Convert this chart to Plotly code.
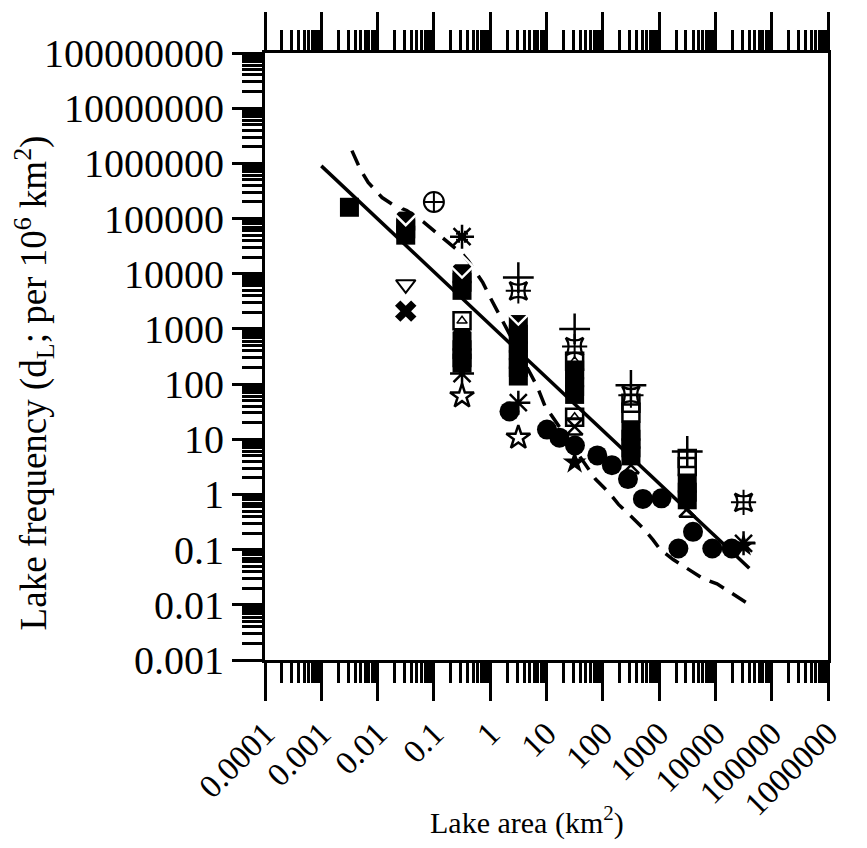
import plotly.graph_objects as go

# ---------------- data ----------------
# model lines
solid_x = [0.001, 40000]
solid_y = [9.0e5, 0.046]

dashed_x = [0.0035, 0.0049, 0.0068, 0.012, 0.020, 0.033, 0.065, 0.11, 0.18, 0.33, 0.41,
            0.74, 1.0, 1.38, 6.8, 9.4, 74, 130, 190, 320, 530, 780, 1050, 1780, 3200,
            6000, 10700, 19500, 38000]
dashed_y = [1.7e6, 7.9e5, 4.5e5, 2.4e5, 1.7e5, 1.4e5, 8.7e4, 5.5e4, 3.6e4, 2.2e4, 1.7e4,
            6900, 3700, 2000, 91, 40, 1.9, 1.07, 0.66, 0.40, 0.24, 0.15, 0.10, 0.066, 0.046,
            0.030, 0.024, 0.016, 0.0105]

# filled circles (single survey)
circle_x = [2.2, 10.2, 17, 32, 80, 145, 280, 515, 1100, 2200, 4000, 8800, 19500]
circle_y = [32, 15, 10.7, 7.7, 5.1, 3.4, 1.9, 0.83, 0.85, 0.105, 0.21, 0.105, 0.105]

# filled squares
sqf_x = [0.00316, 0.0316, 0.0316, 0.0316, 0.316, 0.316, 0.316, 0.316, 0.316, 0.316, 0.316,
         3.16, 3.16, 3.16, 3.16, 3.16, 3.16, 3.16, 31.6, 31.6, 31.6, 31.6,
         316, 316, 316, 316, 3162, 3162, 3162]
sqf_y = [1.6e5, 9.0e4, 6.5e4, 5.0e4, 10000, 7000, 5000, 600, 420, 300, 240,
         1200, 800, 550, 400, 280, 200, 140, 180, 130, 90, 65,
         14, 10, 7, 5, 1.6, 1.1, 0.8]

# open diamonds
dia_x = [0.0316, 0.316, 3.16, 31623]
dia_y = [1.2e5, 13500, 1900, 0.22]

# plus signs
plus_x = [3.16, 31.6, 316, 3162]
plus_y = [8500, 1000, 95, 6.0]

# open four-point stars
star4_x = [3.16, 31.6, 316, 31623]
star4_y = [4900, 480, 63, 0.72]

# hash
hash_x = [0.316]
hash_y = [47000]

# circled cross
ccross_x = [0.1]
ccross_y = [2.0e5]

# open down triangle
tri_x = [0.0316]
tri_y = [6400]

# thick cross
x_x = [0.0316]
x_y = [2100]

# open five-point stars
star_x = [0.316, 3.16]
star_y = [60, 10.7]

# filled five-point stars
starf_x = [31.6, 31623]
starf_y = [3.8, 0.12]

# starbursts
burst_x = [0.316, 3.16, 31623]
burst_y = [155, 46, 0.13]

# open squares
sqo_x = [0.316, 31.6, 31.6, 316, 316, 3162, 3162]
sqo_y = [1400, 260, 25, 45, 30, 4.5, 3.2]

# hourglasses
hg_x = [0.316, 31.6, 316, 3162]
hg_y = [650, 17, 3.4, 0.55]

# axis ticks
x_tickvals = [0.0001, 0.001, 0.01, 0.1, 1, 10, 100, 1000, 10000, 100000, 1000000]
x_ticktext = ["0.0001", "0.001", "0.01", "0.1", "1", "10", "100", "1000", "10000",
              "100000", "1000000"]
y_tickvals = [0.001, 0.01, 0.1, 1, 10, 100, 1000, 10000, 100000, 1000000, 10000000,
              100000000]
y_ticktext = ["0.001", "0.01", "0.1", "1", "10", "100", "1000", "10000", "100000",
              "1000000", "10000000", "100000000"]

# ---------------- figure ----------------
FONT = "Times New Roman, Liberation Serif, serif"
fig = go.Figure()

fig.add_trace(go.Scatter(x=solid_x, y=solid_y, mode="lines",
                         line=dict(color="black", width=3.5)))
fig.add_trace(go.Scatter(x=dashed_x, y=dashed_y, mode="lines",
                         line=dict(color="black", width=3.5, dash="16px,10px")))

def add_markers(xs, ys, symbol, size, lw=1.5, fill="black"):
    fig.add_trace(go.Scatter(
        x=xs, y=ys, mode="markers",
        marker=dict(symbol=symbol, size=size, color=fill,
                    line=dict(color="black", width=lw))))

add_markers(sqf_x, sqf_y, "square", 19, 0)
add_markers(sqo_x, sqo_y, "square-open", 17, 2.5)
add_markers(sqo_x[:3], sqo_y[:3], "triangle-up-open", 9, 1.5)
add_markers(hg_x, hg_y, "hourglass-open", 16, 2.5)
add_markers(dia_x, dia_y, "diamond-open", 17, 2.5, "white")
add_markers(plus_x, plus_y, "cross-thin-open", 22, 2.5)
add_markers(star4_x, star4_y, "star-square-open", 16, 2.5)
add_markers(star4_x, star4_y, "cross-thin-open", 18, 2)
add_markers(hash_x, hash_y, "asterisk-open", 20, 2.5)
add_markers(hash_x, hash_y, "hash-open", 12, 2)
add_markers(ccross_x, ccross_y, "circle-cross-open", 20, 2)
add_markers(tri_x, tri_y, "triangle-down-open", 17, 2)
add_markers(x_x, x_y, "x", 19, 0)
add_markers(star_x, star_y, "star-open", 18, 2.5)
add_markers(starf_x, starf_y, "star", 18, 0)
add_markers(burst_x, burst_y, "asterisk-open", 20, 2.5)
add_markers(circle_x, circle_y, "circle", 20, 0)

axis_common = dict(
    type="log", showgrid=False, zeroline=False, showline=True,
    linecolor="black", linewidth=3, ticks="outside", tickcolor="black",
    tickwidth=3, tickmode="array",
    minor=dict(ticks="outside", ticklen=20, tickwidth=2.5, tickcolor="black",
               dtick="D1", showgrid=False),
)

fig.update_xaxes(range=[-4, 6], tickvals=x_tickvals, ticktext=x_ticktext,
                 ticklen=38, tickangle=-45, mirror="ticks",
                 tickfont=dict(family=FONT, size=33, color="black"), **axis_common)
fig.update_yaxes(range=[-3, 8], tickvals=y_tickvals, ticktext=y_ticktext,
                 ticklen=30, mirror=True,
                 tickfont=dict(family=FONT, size=40, color="black"), **axis_common)

fig.add_annotation(text="Lake area (km<sup>2</sup>)", xref="paper", yref="paper",
                   x=0.465, y=-0.264, showarrow=False, xanchor="center", yanchor="middle",
                   font=dict(family=FONT, size=30, color="black"))
fig.add_annotation(text="Lake frequency (d<sub>L</sub>; per 10<sup>6</sup> km<sup>2</sup>)",
                   xref="paper", yref="paper", x=-0.41, y=0.456, textangle=-90,
                   showarrow=False, xanchor="center", yanchor="middle",
                   font=dict(family=FONT, size=37, color="black"))

fig.update_layout(
    width=867, height=848, autosize=False,
    margin=dict(l=265, r=39, t=46, b=188),
    plot_bgcolor="white", paper_bgcolor="white",
    font=dict(family=FONT, color="black"),
    showlegend=False,
)

fig.write_html("out.html")
